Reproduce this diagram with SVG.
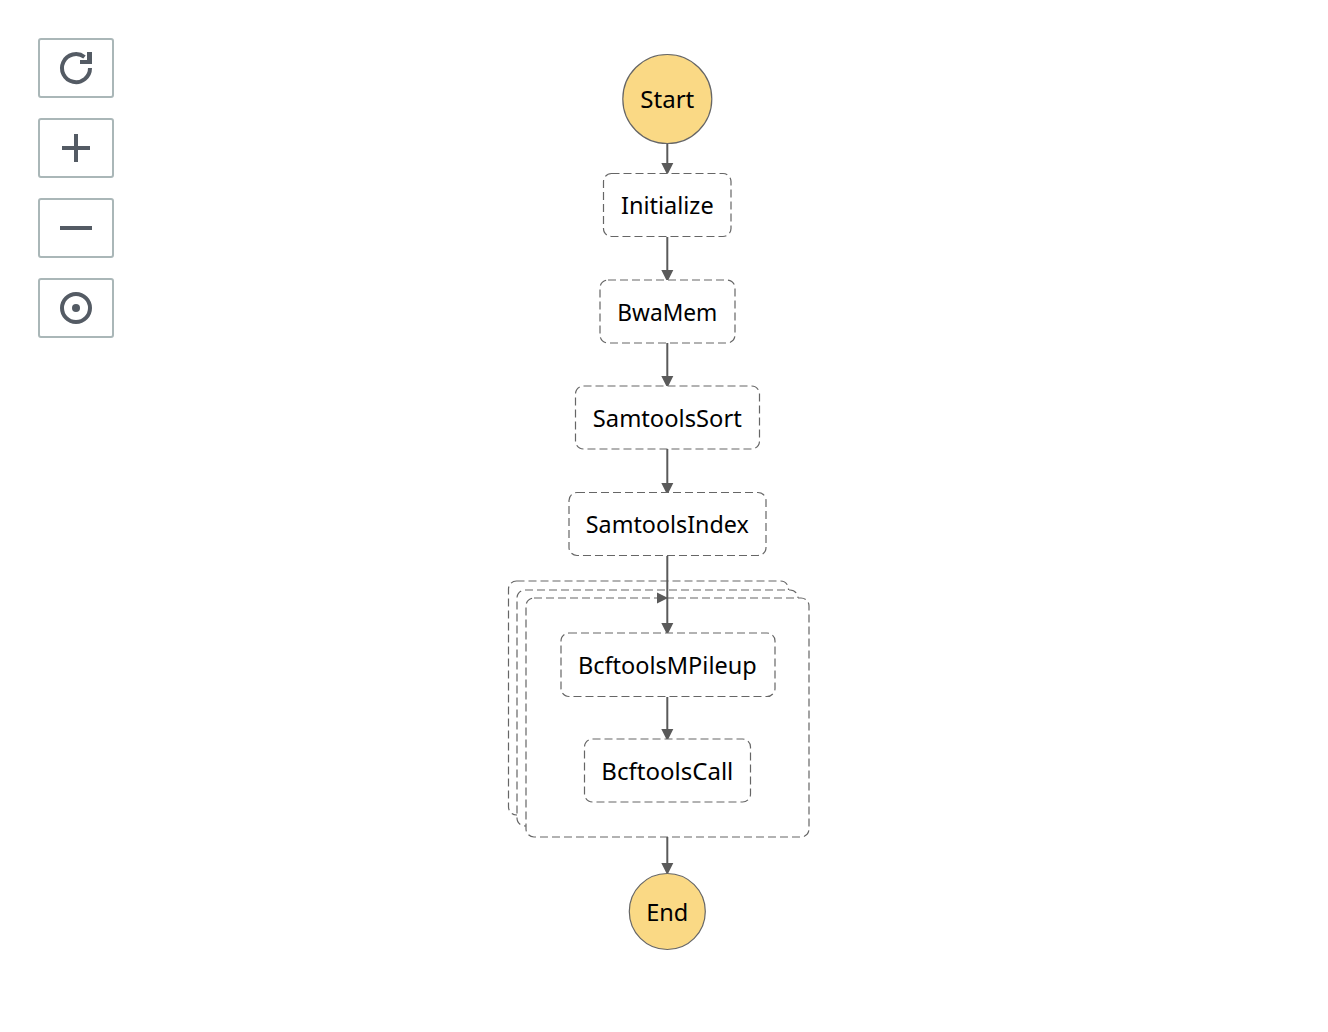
<svg xmlns="http://www.w3.org/2000/svg" width="1328" height="1032" viewBox="0 0 1328 1032">
<style>
.btn{fill:#fff;stroke:#aab7b8;stroke-width:2}
.ico{fill:none;stroke:#545b64;stroke-width:4}
.icof{fill:#545b64}
.task{fill:#fff;stroke:#666;stroke-width:1.2;stroke-dasharray:8 4}
.term{fill:#fad985;stroke:#666;stroke-width:1.2}
.lbl{font-family:"Noto Sans","Liberation Sans",sans-serif;font-size:23.5px;fill:#000;text-anchor:middle}
.edge{fill:none;stroke:#5a5a5a;stroke-width:2}
.head{fill:#5a5a5a}
</style>
<rect width="1328" height="1032" fill="#fff"/>
<g id="btn-refresh"><rect class="btn" x="39" y="39" width="74" height="58" rx="2"/><path class="ico" d="M90 68A14 14 0 1 1 84.500 57"/><path class="icof" d="M80 60H87V52H92V64H80Z"/></g>
<g id="btn-plus"><rect class="btn" x="39" y="119" width="74" height="58" rx="2"/><path class="ico" d="M62 148H90M76 134V162"/></g>
<g id="btn-minus"><rect class="btn" x="39" y="199" width="74" height="58" rx="2"/><path class="ico" d="M60 228H92"/></g>
<g id="btn-center"><rect class="btn" x="39" y="279" width="74" height="58" rx="2"/><circle class="ico" cx="76" cy="308" r="14"/><circle class="icof" cx="76" cy="308" r="4"/></g>
<g id="map-stack">
<rect class="task" x="508.500" y="581" width="280" height="234" rx="8"/>
<rect class="task" x="517" y="590" width="281" height="236" rx="8"/>
<rect class="task" x="526" y="598" width="283" height="239" rx="8"/>
</g>
<g id="connectors">
<path class="edge" d="M667.300 144V165"/><path class="head" d="M661.300 163H673.300L667.300 175Z"/>
<path class="edge" d="M667.300 237V272"/><path class="head" d="M661.300 270H673.300L667.300 282Z"/>
<path class="edge" d="M667.300 343V378"/><path class="head" d="M661.300 376H673.300L667.300 388Z"/>
<path class="edge" d="M667.300 449V485"/><path class="head" d="M661.300 483H673.300L667.300 495Z"/>
<path class="edge" d="M667.300 556V626"/><path class="head" d="M661.300 623H673.300L667.300 635Z"/>
<path class="head" d="M657 592.500V603.500L668 598Z"/>
<path class="edge" d="M667.300 697V732"/><path class="head" d="M661.300 729H673.300L667.300 741Z"/>
<path class="edge" d="M667.300 837V866"/><path class="head" d="M661.300 863H673.300L667.300 875Z"/>
</g>
<g id="start"><circle class="term" cx="667.300" cy="99" r="44.500"/><text class="lbl" x="667.300" y="108" textLength="54" lengthAdjust="spacingAndGlyphs">Start</text></g>
<g id="initialize"><rect class="task" x="603.500" y="173.500" width="127.500" height="63" rx="8"/><text class="lbl" x="667.300" y="214">Initialize</text></g>
<g id="bwamem"><rect class="task" x="600" y="280" width="135" height="63" rx="8"/><text class="lbl" x="667.300" y="321" textLength="100" lengthAdjust="spacingAndGlyphs">BwaMem</text></g>
<g id="samtoolssort"><rect class="task" x="575.500" y="386" width="184" height="63" rx="8"/><text class="lbl" x="667.300" y="427" textLength="149" lengthAdjust="spacingAndGlyphs">SamtoolsSort</text></g>
<g id="samtoolsindex"><rect class="task" x="569" y="492.500" width="197" height="63" rx="8"/><text class="lbl" x="667.300" y="533" textLength="163" lengthAdjust="spacingAndGlyphs">SamtoolsIndex</text></g>
<g id="bcftoolsmpileup"><rect class="task" x="561" y="633" width="214" height="63.500" rx="8"/><text class="lbl" x="667.300" y="674">BcftoolsMPileup</text></g>
<g id="bcftoolscall"><rect class="task" x="584.500" y="739" width="166" height="63" rx="8"/><text class="lbl" x="667.300" y="780" textLength="132" lengthAdjust="spacingAndGlyphs">BcftoolsCall</text></g>
<g id="end"><circle class="term" cx="667.300" cy="911.500" r="38"/><text class="lbl" x="667.300" y="921">End</text></g>
</svg>
